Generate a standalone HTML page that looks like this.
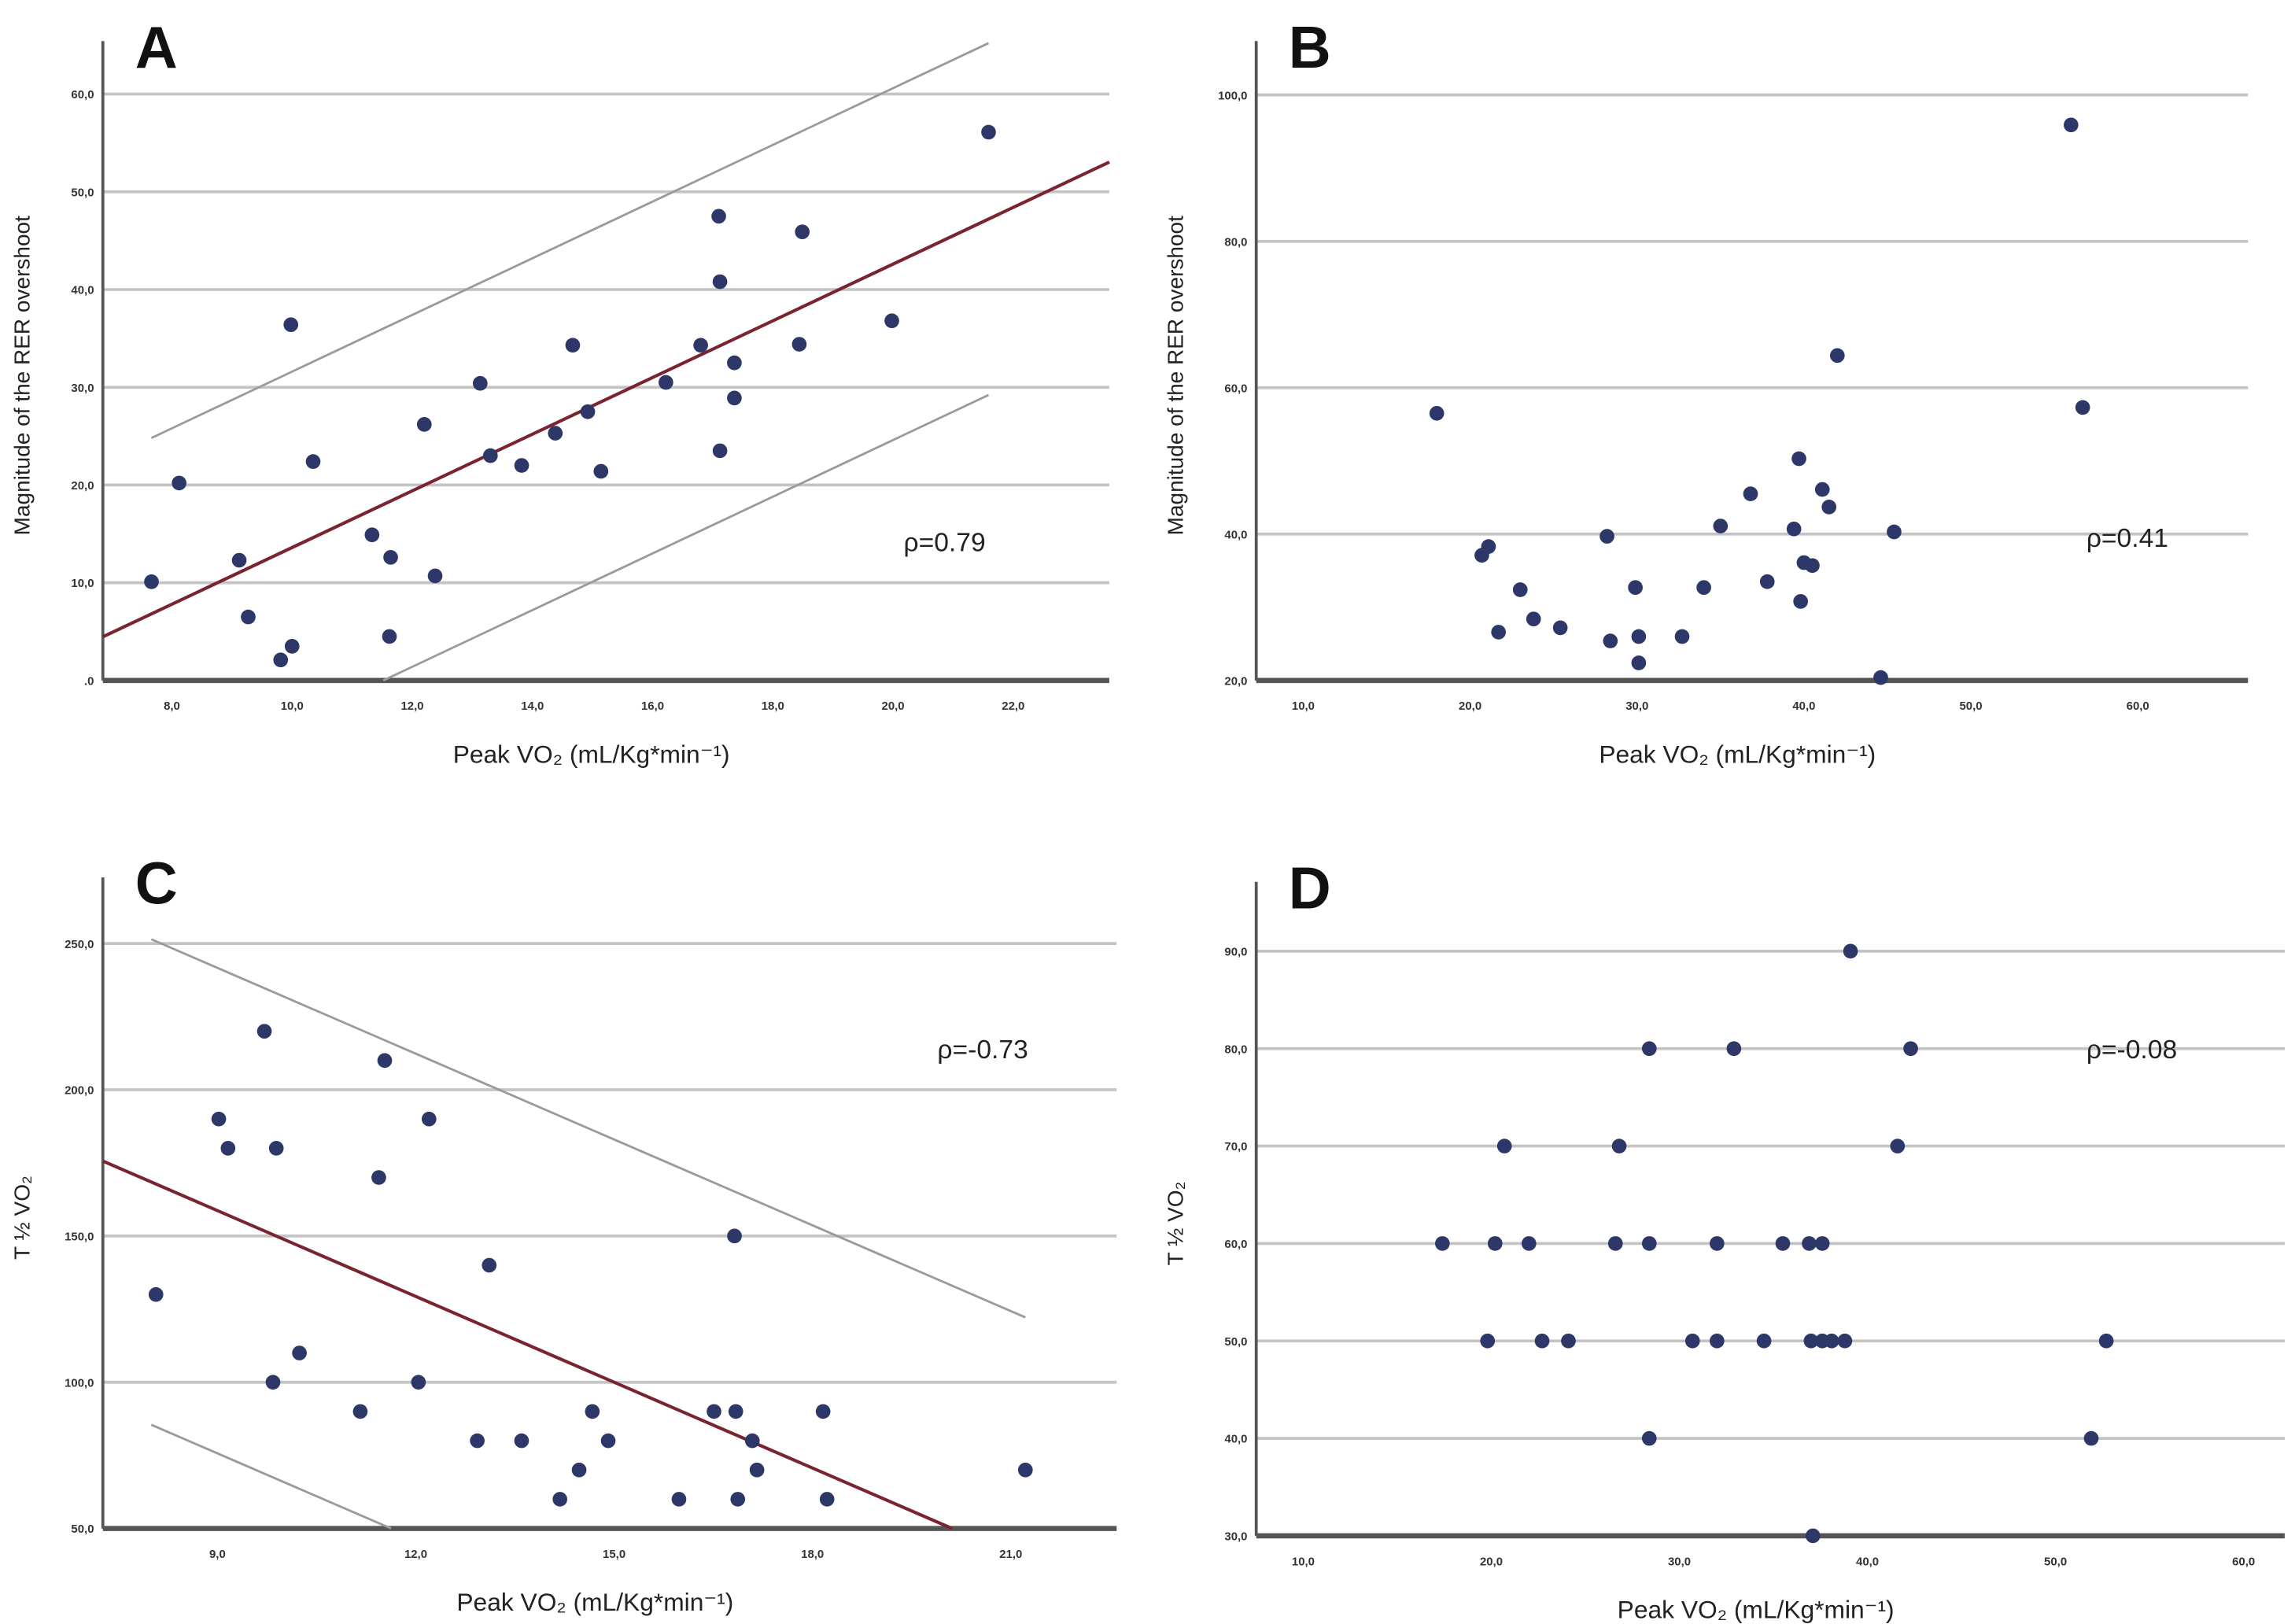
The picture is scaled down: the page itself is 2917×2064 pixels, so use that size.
<!DOCTYPE html>
<html><head><meta charset="utf-8">
<style>
html,body{margin:0;padding:0;background:#fff;}
svg{display:block;}
text{font-family:"Liberation Sans",sans-serif;}
</style></head>
<body>
<svg id="fig" width="2917" height="2064" viewBox="0 0 1562 1105" preserveAspectRatio="none" xmlns="http://www.w3.org/2000/svg"></svg>
<script>
// Panel A data
const aX = [7.66,8.12,9.12,9.27,9.81,10.0,9.98,10.35,11.33,11.64,11.62,12.2,12.38,13.13,13.3,13.82,14.38,14.67,14.92,15.14,16.22,16.8,17.1,17.12,17.12,17.36,17.36,18.49,18.44,19.98,21.59];
const aY = [10.1,20.2,12.3,6.5,2.1,3.5,36.4,22.4,14.9,12.6,4.5,26.2,10.7,30.4,23.0,22.0,25.3,34.3,27.5,21.4,30.5,34.3,47.5,40.8,23.5,32.5,28.9,45.9,34.4,36.8,56.1];
const aYTicks = [0,10,20,30,40,50,60];
const aYLabels = [".0","10,0","20,0","30,0","40,0","50,0","60,0"];
const aXTicks = [8,10,12,14,16,18,20,22];
const aXLabels = ["8,0","10,0","12,0","14,0","16,0","18,0","20,0","22,0"];
const aFit = [-15.4, 2.9]; // intercept, slope
const aBand = 18;
// Panel B data
const bX = [18.0,20.7,21.1,21.7,23.0,23.8,25.4,28.2,28.4,29.9,30.1,30.1,32.7,34.0,35.0,36.8,37.8,39.4,39.7,39.8,40.0,40.5,41.1,41.5,42.0,44.6,45.4,56.0,56.7];
const bY = [56.5,37.1,38.3,26.6,32.4,28.4,27.2,39.7,25.4,32.7,26.0,22.4,26.0,32.7,41.1,45.5,33.5,40.7,50.3,30.8,36.1,35.7,46.1,43.7,64.4,20.4,40.3,95.9,57.3];
const bYTicks = [20,40,60,80,100];
const bXTicks = [10,20,30,40,50,60];
// Panel C data
const cX = [8.07,9.02,9.16,9.71,9.89,9.84,10.24,11.16,11.44,11.53,12.04,12.2,12.93,13.11,13.6,14.18,14.47,14.67,14.91,15.98,16.51,16.82,16.84,16.87,17.09,17.16,18.16,18.22,21.22];
const cY = [130,190,180,220,180,100,110,90,170,210,100,190,80,140,80,60,70,90,80,60,90,150,90,60,80,70,90,60,70];
const cYTicks = [50,100,150,200,250];
const cXTicks = [9,12,15,18,21];
const cFit = [246.7, -9.78];
const cBand = 83;
// Panel D data
const dX = [17.4,19.8,20.2,20.7,22.0,22.7,24.1,26.6,26.8,28.4,28.4,28.4,30.7,32.0,32.0,32.9,34.5,35.5,37.0,36.9,37.6,37.1,37.6,38.1,38.8,39.1,41.6,42.3,51.9,52.7];
const dY = [60,50,60,70,60,50,50,60,70,40,80,60,50,50,60,80,50,60,50,60,60,30,50,50,50,90,70,80,40,50];
const dYTicks = [30,40,50,60,70,80,90];
const dXTicks = [10,20,30,40,50,60];

const NS="http://www.w3.org/2000/svg";
const svg=document.getElementById('fig');
function mk(tag,attrs,parent){const e=document.createElementNS(NS,tag);for(const k in attrs)e.setAttribute(k,attrs[k]);(parent||svg).appendChild(e);return e;}

function panel(p){
  const g=mk('g',{});
  
  
  const sx=v=>p.x0+(v-p.xv0)*p.xs;
  const sy=v=>p.y0-(v-p.yv0)*p.ys;
  // grid
  p.yTicks.forEach((t,i)=>{
    const y=sy(t);
    if(i>0){const l=mk('line',{x1:p.left,x2:p.right,y1:y,y2:y,stroke:'#c4c4c4','stroke-width':2},g);
      
      }
    const tx=mk('text',{x:p.left-6,y:y+3,'font-size':8,'text-anchor':'end',fill:'#333','font-weight':'bold'},g);
    tx.textContent=p.yLabels?p.yLabels[i]:(t.toFixed(1).replace('.',','));
    
    
  });
  p.xTicks.forEach((t,i)=>{
    const tx=mk('text',{x:sx(t),y:p.bottom+20,'font-size':8,'text-anchor':'middle',fill:'#333','font-weight':'bold'},g);
    tx.textContent=p.xLabels?p.xLabels[i]:(t.toFixed(1).replace('.',','));
    
    
  });
  // axes
  const ya=mk('line',{x1:p.left,x2:p.left,y1:p.top,y2:p.bottom,stroke:'#555','stroke-width':2},g);
  
  
  const xa=mk('line',{x1:p.left,x2:p.right,y1:p.bottom,y2:p.bottom,stroke:'#555','stroke-width':3.5},g);
  
  
  // fit lines
  if(p.fit){
    const f=v=>p.fit[0]+p.fit[1]*v;
    const clipX=(yv)=> (yv-p.fit[0])/p.fit[1];
    // regression across full plot
    let xa0=p.fxMin, xa1=p.fxMax;
    let xs0=xa0, xs1=xa1;
    if(f(xs1)<p.yv0) xs1=clipX(p.yv0);
    if(f(xs0)<p.yv0) xs0=clipX(p.yv0);
    const r=mk('line',{x1:sx(xs0),y1:sy(f(xs0)),x2:sx(xs1),y2:sy(f(xs1)),stroke:'#7a2430','stroke-width':2.2},g);
    
    
    [p.band,-p.band].forEach((b,k)=>{
      const fb=v=>f(v)+b;
      let u0=p.bxMin,u1=p.bxMax;
      if(fb(u0)<p.yv0) u0=(p.yv0-b-p.fit[0])/p.fit[1];
      if(fb(u1)<p.yv0) u1=(p.yv0-b-p.fit[0])/p.fit[1];
      const l=mk('line',{x1:sx(u0),y1:sy(fb(u0)),x2:sx(u1),y2:sy(fb(u1)),stroke:'#9a9a9a','stroke-width':1.5},g);
      
      
    });
  }
  // points
  p.xs_.forEach((xv,i)=>{
    const c=mk('circle',{cx:sx(xv),cy:sy(p.ys_[i]),r:5,fill:'#2d3868'},g);
    
    
  });
  // labels
  const L=mk('text',{x:p.left+22,y:p.top+18,'font-size':40,'font-weight':'bold',fill:'#111'},g);
  L.textContent=p.letter;
  
  
  const rho=mk('text',{x:p.rhoX,y:p.rhoY,'font-size':18,fill:'#222'},g);
  rho.textContent=p.rho;
  
  
  const yt=mk('text',{x:0,y:0,'font-size':15,'text-anchor':'middle',fill:'#222',transform:`translate(${p.left-50},${(p.top+p.bottom)/2+10}) rotate(-90)`},g);
  yt.textContent=p.yTitle;
  
  
  const xt=mk('text',{x:(p.left+p.right)/2-10,y:p.bottom+56,'font-size':17,'text-anchor':'middle',fill:'#222'},g);
  xt.textContent='Peak VO\u2082 (mL/Kg*min\u207B\u00B9)';
  
  
}

panel({name:'panel-a',letter:'A',left:70,right:755,top:28,bottom:463,x0:117,xv0:8,xs:40.9,y0:463,yv0:0,ys:6.65,
  yTicks:aYTicks,yLabels:aYLabels,xTicks:aXTicks,xLabels:aXLabels,xs_:aX,ys_:aY,fit:aFit,band:aBand,
  fxMin:6.85,fxMax:23.6,bxMin:7.66,bxMax:21.59,rho:'\u03C1=0.79',rhoX:615,rhoY:375,yTitle:'Magnitude of the RER overshoot'});
panel({name:'panel-b',letter:'B',left:855,right:1530,top:28,bottom:463,x0:887,xv0:10,xs:11.36,y0:463,yv0:20,ys:4.98,
  yTicks:bYTicks,xTicks:bXTicks,xs_:bX,ys_:bY,rho:'\u03C1=0.41',rhoX:1420,rhoY:372,yTitle:'Magnitude of the RER overshoot'});
panel({name:'panel-c',letter:'C',left:70,right:760,top:597,bottom:1040,x0:148,xv0:9,xs:45,y0:1040,yv0:50,ys:1.99,
  yTicks:cYTicks,xTicks:cXTicks,xs_:cX,ys_:cY,fit:cFit,band:cBand,
  fxMin:7.27,fxMax:22,bxMin:8.0,bxMax:21.22,rho:'\u03C1=-0.73',rhoX:638,rhoY:720,yTitle:'T \u00BD VO\u2082'});
panel({name:'panel-d',letter:'D',left:855,right:1555,top:600,bottom:1045,x0:887,xv0:10,xs:12.8,y0:1045,yv0:30,ys:6.63,
  yTicks:dYTicks,xTicks:dXTicks,xs_:dX,ys_:dY,rho:'\u03C1=-0.08',rhoX:1420,rhoY:720,yTitle:'T \u00BD VO\u2082'});
</script>
</body></html>
